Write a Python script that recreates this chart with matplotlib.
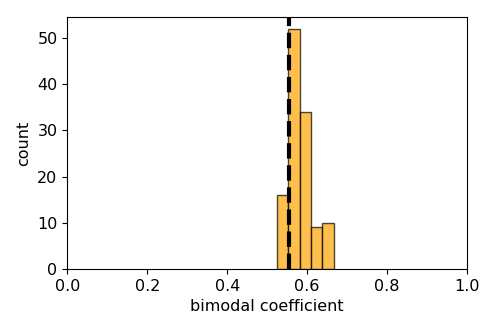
import matplotlib
matplotlib.use("Agg")
import matplotlib.pyplot as plt
import numpy as np

# histogram of bimodal coefficients
bin_edges = [0.524, 0.553, 0.581, 0.610, 0.638, 0.667]
counts = [16, 52, 34, 9, 10]
threshold = 0.5556

fig, ax = plt.subplots(figsize=(4.98, 3.32), dpi=100)
ax.hist(bin_edges[:-1], bins=bin_edges, weights=counts,
        color="orange", alpha=0.7, edgecolor="black")
ax.axvline(threshold, color="black", linestyle="--", linewidth=3)

ax.set_xlim(0, 1)
ax.set_ylim(0, max(counts) * 1.05)
ax.set_xlabel("bimodal coefficient", fontsize=11.5)
ax.set_ylabel("count", fontsize=11.5)
ax.tick_params(labelsize=11.5)

fig.subplots_adjust(left=0.135, right=0.938, top=0.949, bottom=0.19)
fig.savefig("out.png", dpi=100, facecolor="white")
